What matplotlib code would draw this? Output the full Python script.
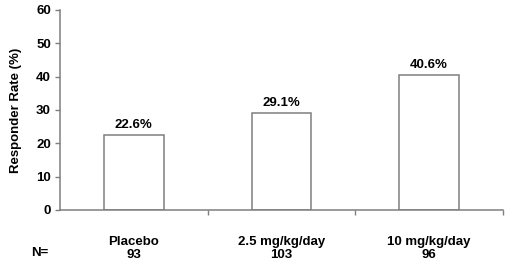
import matplotlib
matplotlib.use("Agg")
import matplotlib.pyplot as plt

groups = ["Placebo", "2.5 mg/kg/day", "10 mg/kg/day"]
n_values = [93, 103, 96]
rates = [22.6, 29.1, 40.6]
y_ticks = [0, 10, 20, 30, 40, 50, 60]

plt.rcParams["font.family"] = ["Liberation Sans", "DejaVu Sans"]
plt.rcParams["font.weight"] = "bold"

fig = plt.figure(figsize=(5.11, 2.67), dpi=100)
ax = fig.add_axes([60 / 511, 57 / 267, 443 / 511, 200 / 267])

grey = "#7f7f7f"
x = list(range(len(groups)))
bars = ax.bar(x, rates, width=0.405, color="white", edgecolor=grey, linewidth=1.1)
for xi, r in zip(x, rates):
    ax.text(xi, r + 1.2, f"{r:.1f}%", ha="center", va="bottom", fontsize=9.5, fontweight="bold")

ax.set_xlim(-0.5, len(groups) - 0.5)
ax.set_ylim(0, 60)
ax.set_yticks(y_ticks)
ax.set_yticklabels([str(t) for t in y_ticks], fontsize=9.5, fontweight="bold")
ax.set_xticks([i + 0.5 for i in range(len(groups))])
ax.set_xticklabels([])
ax.tick_params(axis="both", colors=grey, length=3.5, width=1)
ax.tick_params(axis="y", labelcolor="black", pad=3)

for s in ["top", "right"]:
    ax.spines[s].set_visible(False)
for s in ["left", "bottom"]:
    ax.spines[s].set_color(grey)
    ax.spines[s].set_linewidth(1.1)

ax.set_ylabel("Responder Rate (%)", fontsize=9.5, fontweight="bold", labelpad=10)

for xi, g, n in zip(x, groups, n_values):
    ax.annotate(f"{g}\n{n}", xy=(xi, 0), xycoords=("data", "axes fraction"),
                xytext=(0, -18.5), textcoords="offset points", ha="center", va="top",
                fontsize=9.5, fontweight="bold", linespacing=1.1)
fig.text(40 / 511, 1 - 253 / 267, "N=", ha="center", va="center", fontsize=9.5, fontweight="bold")

fig.savefig("out.png", dpi=100)
